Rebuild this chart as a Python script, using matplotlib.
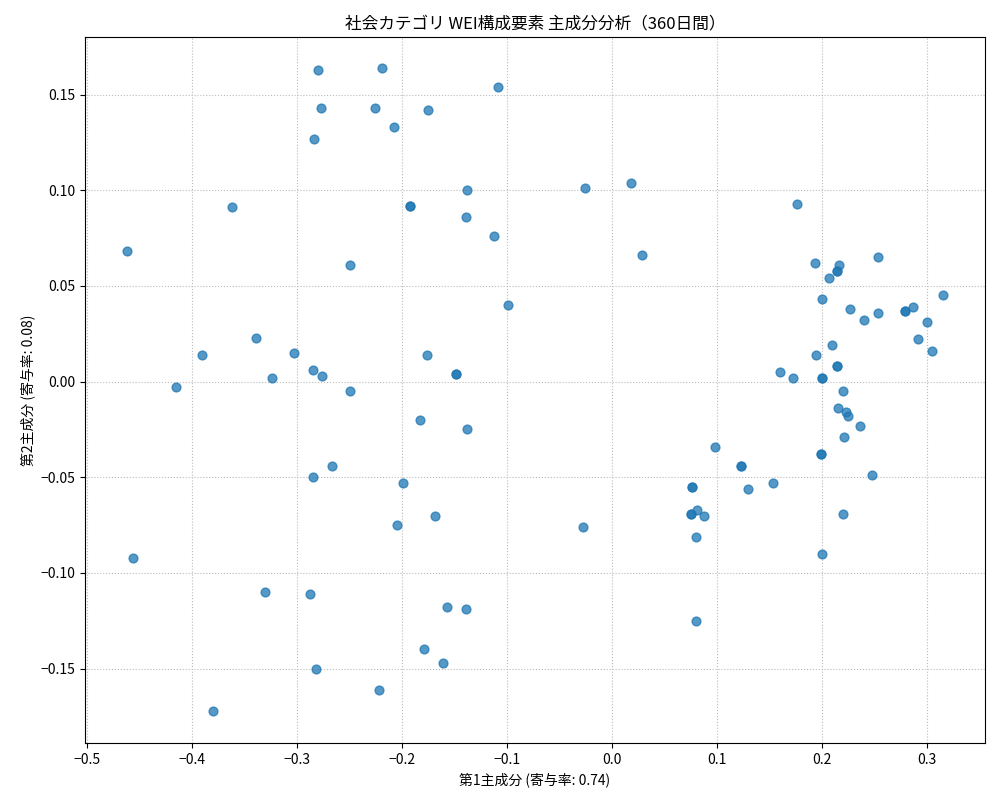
import matplotlib
matplotlib.use("Agg")
import matplotlib.pyplot as plt

plt.rcParams['font.family'] = ['Noto Sans CJK JP', 'DejaVu Sans']

# PC1 / PC2 scores (duplicated entries appear as darker points)
pc1 = [-0.280, -0.219, -0.109, -0.277, -0.226, -0.175, -0.208, -0.284, -0.138, -0.026,
       0.018, -0.362, -0.193, -0.193, 0.176, -0.139, -0.113, -0.462, 0.028, -0.250,
       0.193, 0.216, 0.253, 0.214, 0.214, 0.206, 0.315, -0.099, 0.200, 0.226,
       0.279, 0.279, 0.286, 0.253, 0.240, 0.300, -0.339, 0.291, 0.209, 0.305,
       -0.303, 0.194, -0.176, -0.391, 0.214, 0.214, -0.285, -0.149, -0.149, 0.160,
       -0.324, -0.276, 0.172, 0.200, 0.200, -0.415, -0.250, 0.220, 0.215, -0.183,
       0.223, 0.225, 0.236, -0.138, 0.221, 0.098, 0.199, 0.199, 0.123, 0.123,
       -0.267, 0.247, -0.285, -0.199, 0.153, 0.076, 0.076, 0.129, 0.081, 0.075,
       0.075, 0.087, 0.220, -0.169, -0.205, -0.028, 0.080, 0.200, -0.456, -0.331,
       -0.288, -0.157, -0.139, 0.080, -0.179, -0.161, -0.282, -0.222, -0.380]
pc2 = [0.163, 0.164, 0.154, 0.143, 0.143, 0.142, 0.133, 0.127, 0.100, 0.101,
       0.104, 0.091, 0.092, 0.092, 0.093, 0.086, 0.076, 0.068, 0.066, 0.061,
       0.062, 0.061, 0.065, 0.058, 0.058, 0.054, 0.045, 0.040, 0.043, 0.038,
       0.037, 0.037, 0.039, 0.036, 0.032, 0.031, 0.023, 0.022, 0.019, 0.016,
       0.015, 0.014, 0.014, 0.014, 0.008, 0.008, 0.006, 0.004, 0.004, 0.005,
       0.002, 0.003, 0.002, 0.002, 0.002, -0.003, -0.005, -0.005, -0.014, -0.020,
       -0.016, -0.018, -0.023, -0.025, -0.029, -0.034, -0.038, -0.038, -0.044, -0.044,
       -0.044, -0.049, -0.050, -0.053, -0.053, -0.055, -0.055, -0.056, -0.067, -0.069,
       -0.069, -0.070, -0.069, -0.070, -0.075, -0.076, -0.081, -0.090, -0.092, -0.110,
       -0.111, -0.118, -0.119, -0.125, -0.140, -0.147, -0.150, -0.161, -0.172]

fig = plt.figure(figsize=(10, 8), dpi=100)
ax = fig.add_axes([0.085, 0.071, 0.9, 0.8825])
ax.scatter(pc1, pc2, color="C0", alpha=0.75, s=40, zorder=3)
ax.set_xlim(-0.502, 0.355)
ax.set_ylim(-0.189, 0.180)
ax.grid(True, linestyle=":", color="#bbbbbb")
ax.set_xlabel("第1主成分 (寄与率: 0.74)")
ax.set_ylabel("第2主成分 (寄与率: 0.08)")
ax.set_title("社会カテゴリ WEI構成要素 主成分分析（360日間）")
fig.savefig("out.png", dpi=100)
